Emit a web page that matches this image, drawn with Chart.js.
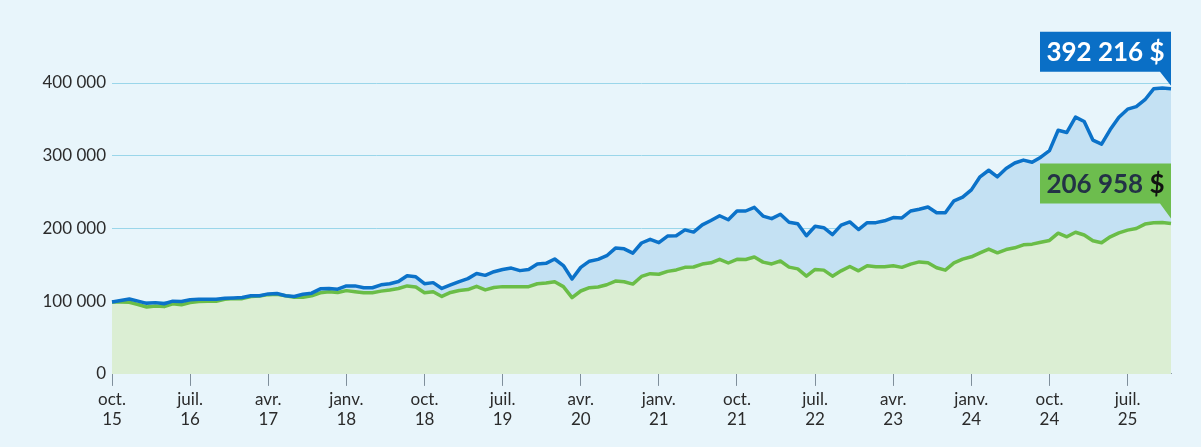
<!DOCTYPE html>
<html lang="fr">
<head>
<meta charset="utf-8">
<title>Croissance d'un placement</title>
<script src="https://cdn.jsdelivr.net/npm/chart.js@4.4.1/dist/chart.umd.min.js"></script>
<style>
  html, body { margin: 0; padding: 0; background: #e8f5fb; }
  #wrap { width: 1201px; height: 447px; }
</style>
</head>
<body>
<div id="wrap"><canvas id="growthChart"></canvas></div>
<script>
// Month names used for the x axis (series starts oct. 2015, monthly)
const monthNames = ["janv.", "févr.", "mars", "avr.", "mai", "juin", "juil.", "août", "sept.", "oct.", "nov.", "déc."];
const startYear = 2015;
const startMonth = 9; // oct.
const tickEvery = 9;  // one label every 9 months

// Portfolio values - - - - - *
const blueValues = [
  99000, 101000, 103000, 100000, 97000, 98000, 96500, 100000, 99500, 102000,
  102500, 102500, 102500, 104000, 104500, 105000, 107500, 107500, 110000, 110500,
  107500, 106500, 109500, 111000, 117000, 117500, 116500, 121000, 121000, 118500,
  118500, 122500, 124000, 127000, 135000, 133500, 124000, 125500, 117500, 122300,
  127000, 131000, 138000, 135500, 140500, 143500, 145500, 142000, 143500, 151000,
  152000, 158000, 149000, 130500, 146500, 155000, 157500, 162500, 173000, 172000,
  166000, 180000, 185000, 180500, 189500, 190000, 198000, 195000, 205000, 211000,
  217500, 212000, 224000, 224000, 229000, 217000, 213500, 219500, 208500, 206500,
  190000, 203000, 201000, 191500, 204500, 209000, 198500, 208000, 208000, 210500,
  215000, 214500, 224000, 226500, 229500, 221500, 221500, 238000, 243000, 253000,
  271000, 280000, 271000, 282500, 290000, 294000, 291000, 298000, 307000, 335000,
  332000, 353000, 347000, 321500, 316000, 336000, 353000, 364000, 367500, 377000,
  392000, 393000, 392216
];

const greenValues = [
  99000, 99000, 98500, 95500, 92000, 93500, 92500, 96500, 95000, 98000,
  99500, 100000, 100000, 102500, 103500, 103500, 106500, 107000, 109000, 109500,
  107500, 105500, 105500, 107500, 111500, 113000, 112000, 114500, 113000, 111500,
  111500, 113800, 115500, 117500, 121000, 119500, 111500, 113000, 106500, 112000,
  114700, 116000, 120500, 115500, 118800, 120000, 120000, 120000, 120000, 124000,
  125000, 126700, 120000, 105000, 114000, 118500, 119500, 122600, 127600, 126700,
  123500, 134000, 137800, 137000, 141000, 143000, 146500, 147000, 151000, 152700,
  157500, 152500, 157500, 157300, 160700, 153700, 151200, 155200, 146800, 144400,
  134400, 143600, 142700, 134400, 141700, 147700, 141700, 148600, 147200, 147200,
  148600, 146500, 151000, 154000, 152700, 145900, 142700, 152700, 157800, 161000,
  166500, 171600, 166500, 171000, 173400, 177500, 178400, 181000, 183500, 193500,
  188500, 194800, 191000, 183000, 180300, 188500, 194000, 197700, 200000, 206000,
  207800, 208300, 206958
];

const yMax = 400000;
const yStep = 100000;
const endLabels = ["392 216 $", "206 958 $"];

// Build the month labels: ["oct.", "15"], ["nov.", "15"], ...
const labels = blueValues.map((v, i) => {
  const m = (startMonth + i) % 12;
  const y = startYear + Math.floor((startMonth + i) / 12);
  return [monthNames[m], String(y).slice(2)];
});

function formatThousands(v) {
  return String(v).replace(/\B(?=(\d{3})+(?!\d))/g, " ");
}

// Boxes with the final values, hooked to the last point of each line
const endLabelPlugin = {
  id: "endLabels",
  afterDatasetsDraw(chart) {
    const ctx = chart.ctx;
    const area = chart.chartArea;
    const styles = [
      { fill: "#0a6fc6", text: "#ffffff", sign: "#ffffff", gap: 17, tip: 3 },
      { fill: "#6dbd4e", text: "#233246", sign: "#111111", gap: 20, tip: 5 },
    ];
    endLabels.forEach((txt, i) => {
      const meta = chart.getDatasetMeta(i);
      const pt = meta.data[meta.data.length - 1];
      const s = styles[i];
      const right = area.right;
      const left = right - 131;
      const bottom = pt.y - s.gap;
      const top = bottom - 40;

      ctx.save();
      ctx.fillStyle = s.fill;
      ctx.beginPath();
      ctx.moveTo(left, top);
      ctx.lineTo(right, top);
      ctx.lineTo(right, pt.y - s.tip);
      ctx.lineTo(right - 11, bottom);
      ctx.lineTo(left, bottom);
      ctx.closePath();
      ctx.fill();

      ctx.font = "bold 26px Lato, 'Open Sans', sans-serif";
      ctx.textBaseline = "middle";
      ctx.textAlign = "left";
      const num = txt.slice(0, -1);
      const sign = txt.slice(-1);
      const total = ctx.measureText(txt).width;
      let x = left + (131 - total) / 2;
      const y = (top + bottom) / 2 + 1;
      ctx.fillStyle = s.text;
      ctx.fillText(num, x, y);
      x += ctx.measureText(num).width;
      ctx.fillStyle = s.sign;
      ctx.fillText(sign, x, y);
      ctx.restore();
    });
  },
};

Chart.defaults.font.family = "Lato, 'Open Sans', sans-serif";
Chart.defaults.font.size = 17;
Chart.defaults.color = "#2b2b2b";

const ctx = document.getElementById("growthChart").getContext("2d");
new Chart(ctx, {
  type: "line",
  data: {
    labels: labels,
    datasets: [
      {
        label: "Portefeuille",
        data: blueValues,
        borderColor: "#0b72c9",
        backgroundColor: "#c4e1f3",
        borderWidth: 3.5,
        pointRadius: 0,
        tension: 0,
        borderJoinStyle: "round",
        fill: "+1",
      },
      {
        label: "Indice",
        data: greenValues,
        borderColor: "#6abd47",
        backgroundColor: "#dbeed3",
        borderWidth: 3.5,
        pointRadius: 0,
        tension: 0,
        borderJoinStyle: "round",
        fill: "origin",
      },
    ],
  },
  options: {
    responsive: true,
    maintainAspectRatio: false,
    animation: false,
    layout: { padding: { top: 83, right: 30, bottom: 14, left: 0 } },
    plugins: {
      legend: { display: false },
      tooltip: { enabled: false },
      filler: { drawTime: "beforeDatasetsDraw" },
    },
    scales: {
      x: {
        offset: false,
        grid: {
          drawOnChartArea: false,
          drawTicks: true,
          tickLength: 12,
          color: "#7f8f9b",
        },
        border: { display: true, color: "#8d9ca7", width: 1 },
        ticks: {
          autoSkip: false,
          maxRotation: 0,
          padding: 4,
          color: "#2b2b2b",
          font: { size: 17, lineHeight: 1.15 },
          callback: function (val, index) {
            return index % tickEvery === 0 ? this.getLabelForValue(val) : null;
          },
        },
      },
      y: {
        min: 0,
        max: yMax,
        grid: { color: "#9ad6ea", drawTicks: false, lineWidth: 1 },
        border: { display: false },
        ticks: {
          stepSize: yStep,
          padding: 6,
          color: "#2b2b2b",
          callback: (v) => formatThousands(v),
        },
        afterFit: (scale) => {
          scale.width = 112;
        },
      },
    },
  },
  plugins: [endLabelPlugin],
});
</script>
</body>
</html>
